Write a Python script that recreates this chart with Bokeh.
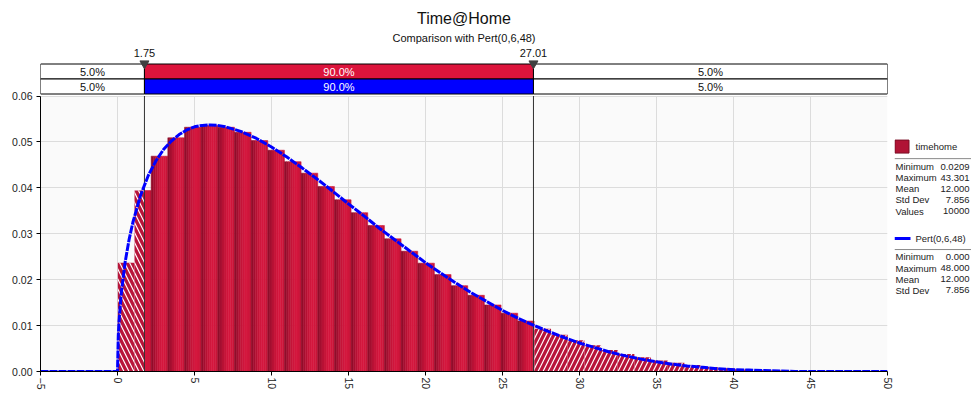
import numpy as np
from bokeh.plotting import figure
from bokeh.layouts import row
from bokeh.models import Range1d, FixedTicker, NumeralTickFormatter
from bokeh.core.properties import value
from bokeh.embed import file_html
from bokeh.resources import INLINE

# ---------------- data ----------------
title = "Time@Home"
subtitle = "Comparison with Pert(0,6,48)"
series_name = "timehome"
fit_name = "Pert(0,6,48)"

bin_min = 0.0209
bin_max = 43.301
hist_density = [0.0237, 0.0394, 0.0469, 0.0509, 0.0532, 0.0536, 0.0532, 0.0521,
                0.0503, 0.0482, 0.0457, 0.0432, 0.0403, 0.0374, 0.0346, 0.0318,
                0.0289, 0.0262, 0.0236, 0.0211, 0.0187, 0.0166, 0.0145, 0.0127,
                0.0110, 0.0093, 0.0080, 0.0068, 0.0057, 0.0047, 0.0038, 0.0031,
                0.0024, 0.0019, 0.0014, 0.0010, 0.0007, 0.0005, 0.0003, 0.0002]

curve_x = [-5, 0, 0.05, 0.1, 0.25, 0.5, 0.75, 1, 1.5, 2, 2.5, 3, 3.5, 4, 4.5, 5,
           5.5, 6, 6.5, 7, 8, 9, 10, 11, 12, 13, 14, 15, 16, 17, 18, 19, 20,
           21, 22, 23, 24, 25, 26, 27, 28, 29, 30, 31, 32, 33, 34, 35, 36, 37,
           38, 39, 40, 41, 42, 43, 44, 46, 48, 50]
curve_y = [0, 0, 0.0078, 0.0110, 0.0172, 0.0239, 0.0287, 0.0325, 0.0384, 0.0427,
           0.0459, 0.0484, 0.0502, 0.0516, 0.0526, 0.0533, 0.0536, 0.0537, 0.0536,
           0.0533, 0.0523, 0.0508, 0.0489, 0.0467, 0.0443, 0.0418, 0.0392, 0.0365,
           0.0339, 0.0312, 0.0287, 0.0262, 0.0237, 0.0214, 0.0192, 0.0171, 0.0152,
           0.0133, 0.0116, 0.0101, 0.0087, 0.0074, 0.0062, 0.0052, 0.0042, 0.0034,
           0.0027, 0.0021, 0.0016, 0.0012, 0.0009, 0.0006, 0.0004, 0.0003, 0.0002,
           0.0001, 0, 0, 0, 0]

p_low = 1.75
p_high = 27.01
band_left_pct = ["5.0%", "5.0%"]
band_mid_pct = ["90.0%", "90.0%"]
band_right_pct = ["5.0%", "5.0%"]
band_colors = ["#DC143C", "#0000FF"]

stats_hist_labels = ["Minimum", "Maximum", "Mean", "Std Dev", "Values"]
stats_hist_values = ["0.0209", "43.301", "12.000", "7.856", "10000"]
stats_fit_labels = ["Minimum", "Maximum", "Mean", "Std Dev"]
stats_fit_values = ["0.000", "48.000", "12.000", "7.856"]

x_ticks = [-5, 0, 5, 10, 15, 20, 25, 30, 35, 40, 45, 50]
y_ticks = [0.0, 0.01, 0.02, 0.03, 0.04, 0.05, 0.06]

# ---------------- layout / style ----------------
FONT = value("Liberation Sans")
X_MIN, X_MAX = -5, 50
Y_MAX = 0.06
W_MAIN, W_LEG, H = 894, 77, 400
PAD_L, PAD_R = 40, 7
IMG_TOP, IMG_Y0, IMG_YMAX = 0, 371, 95.5
PAD_B = H - IMG_Y0
y_top = Y_MAX * (IMG_Y0 - IMG_TOP) / (IMG_Y0 - IMG_YMAX)

GRAD = ["#900D2A", "#A40F30", "#B61235", "#C51539", "#CF163C", "#D5173E",
        "#D2173D", "#C81539"]
HATCH_FILL = "#B8153A"

p = figure(width=W_MAIN, height=H, x_range=Range1d(X_MIN, X_MAX),
           y_range=Range1d(0, y_top), output_backend="svg", toolbar_location=None,
           min_border_left=PAD_L, min_border_right=PAD_R, min_border_top=0,
           min_border_bottom=PAD_B, background_fill_color="white",
           border_fill_color="white", outline_line_color=None)
p.extra_y_ranges = {"hdr": Range1d(start=IMG_Y0, end=IMG_TOP)}

# axes
p.yaxis.bounds = (0, Y_MAX)
p.yaxis.ticker = FixedTicker(ticks=y_ticks)
p.yaxis.formatter = NumeralTickFormatter(format="0.00")
p.xaxis.ticker = FixedTicker(ticks=x_ticks)
p.xaxis.major_label_orientation = "vertical"
for ax in (p.xaxis[0], p.yaxis[0]):
    ax.axis_line_color = "black"
    ax.major_tick_line_color = "black"
    ax.major_tick_out = 4
    ax.major_tick_in = 0
    ax.minor_tick_line_color = None
    ax.major_label_text_font = "Liberation Sans"
    ax.major_label_text_font_size = "10.5px"
    ax.major_label_text_color = "#222222"
p.xaxis.major_label_standoff = 2
p.yaxis.major_label_standoff = 4

p.xgrid.grid_line_color = "#DCDCDC"
p.ygrid.grid_line_color = "#DCDCDC"
p.xgrid.cross_bounds = (0, Y_MAX)

# plot-area background
p.quad(left=X_MIN, right=X_MAX, bottom=0, top=Y_MAX, fill_color="#FAFAFA",
       line_color=None, level="image")

# histogram
n = len(hist_density)
bw = (bin_max - bin_min) / n
edges = [bin_min + bw * i for i in range(n + 1)]
hl, hr, ht = [], [], []
rl, rr, rt = [], [], []
sl, sr, st, sc = [], [], [], []
ns = len(GRAD)
for i, h in enumerate(hist_density):
    a, b = edges[i], edges[i + 1]
    if a < p_low:
        hl.append(a); hr.append(min(b, p_low)); ht.append(h)
    if b > p_high:
        rl.append(max(a, p_high)); rr.append(b); rt.append(h)
    for k in range(ns):
        sa = a + (b - a) * k / ns
        sb = a + (b - a) * (k + 1) / ns
        lo, hi = max(sa, p_low), min(sb, p_high)
        if hi > lo:
            sl.append(lo); sr.append(hi); st.append(h); sc.append(GRAD[k])

p.quad(left=sl, right=sr, bottom=0, top=st, fill_color=sc, line_color=sc,
       line_width=0.5)
p.quad(left=hl, right=hr, bottom=0, top=ht, fill_color=HATCH_FILL, line_color=None,
       hatch_pattern="\\", hatch_color="white", hatch_scale=10, hatch_weight=1.2)
p.quad(left=rl, right=rr, bottom=0, top=rt, fill_color=HATCH_FILL, line_color=None,
       hatch_pattern="/", hatch_color="white", hatch_scale=10, hatch_weight=1.2)

# percentile lines
p.segment(x0=[p_low, p_high], y0=0, x1=[p_low, p_high], y1=Y_MAX,
          line_color="#303030", line_width=1)

# fitted curve
p.line(curve_x, curve_y, line_color="#0000FF", line_width=3, line_dash="8 1")

# header bands
rows_top = [63.5, 78.5]
rows_bot = [78.5, 93.5]
for r in range(2):
    p.quad(left=[X_MIN, p_low, p_high], right=[p_low, p_high, X_MAX],
           top=rows_top[r], bottom=rows_bot[r],
           fill_color=["white", band_colors[r], "white"], line_color="black",
           line_width=1, y_range_name="hdr")
    ymid = (rows_top[r] + rows_bot[r]) / 2
    p.text(x=[(X_MIN + p_low) / 2, (p_low + p_high) / 2, (p_high + X_MAX) / 2],
           y=[ymid] * 3,
           text=[band_left_pct[r], band_mid_pct[r], band_right_pct[r]],
           text_color=["#111111", "white", "#111111"], text_align="center",
           text_baseline="middle", text_font=FONT,
           text_font_size=value("11px"), y_range_name="hdr")

p.scatter(x=[p_low, p_high], y=[63, 63], marker="inverted_triangle", size=9,
          fill_color="#404040", line_color="#404040", y_range_name="hdr")
p.text(x=[p_low, p_high], y=[52.5, 52.5], text=[f"{p_low:.2f}", f"{p_high:.2f}"],
       text_align="center", text_baseline="middle", text_font=FONT,
       text_font_size=value("11px"), text_color="#111111", y_range_name="hdr")

# titles
p.text(x=[(X_MIN + X_MAX) / 2], y=[18], text=[title], text_align="center",
       text_baseline="middle", text_font=FONT, text_font_size=value("16px"),
       text_color="#111111", y_range_name="hdr")
p.text(x=[(X_MIN + X_MAX) / 2], y=[37], text=[subtitle], text_align="center",
       text_baseline="middle", text_font=FONT, text_font_size=value("11px"),
       text_color="#111111", y_range_name="hdr")

# ---------------- legend panel ----------------
lg = figure(width=W_LEG, height=H, x_range=Range1d(0, W_LEG),
            y_range=Range1d(H, 0), output_backend="svg", toolbar_location=None,
            min_border_left=0, min_border_right=0, min_border_top=0,
            min_border_bottom=0, x_axis_location=None, y_axis_location=None,
            background_fill_color="white", border_fill_color="white",
            outline_line_color=None)
lg.grid.visible = False

lg.quad(left=0.5, right=14.5, top=150.5, bottom=164.5, fill_color="#B01435",
        line_color="#7A0E25", line_width=1)
lg.text(x=[21], y=[157.5], text=[series_name], text_baseline="middle",
        text_font=FONT, text_font_size=value("9.5px"), text_color="#222222")
lg.segment(x0=0, y0=170.5, x1=W_LEG, y1=170.5, line_color="#8A8A8A", line_width=1)
ys1 = [179 + 12 * i for i in range(len(stats_hist_labels))]
lg.text(x=[1] * len(ys1), y=ys1, text=stats_hist_labels, text_baseline="middle",
        text_font=FONT, text_font_size=value("9.5px"), text_color="#222222")
lg.text(x=[75] * len(ys1), y=ys1, text=stats_hist_values, text_baseline="middle",
        text_align="right", text_font=FONT, text_font_size=value("9.5px"),
        text_color="#222222")

lg.segment(x0=0, y0=256.5, x1=16, y1=256.5, line_color="#0000FF", line_width=3)
lg.text(x=[21], y=[256.5], text=[fit_name], text_baseline="middle",
        text_font=FONT, text_font_size=value("9.5px"), text_color="#222222")
lg.segment(x0=0, y0=268.5, x1=W_LEG, y1=268.5, line_color="#8A8A8A", line_width=1)
ys2 = [276.5 + 12 * i for i in range(len(stats_fit_labels))]
lg.text(x=[1] * len(ys2), y=ys2, text=stats_fit_labels, text_baseline="middle",
        text_font=FONT, text_font_size=value("9.5px"), text_color="#222222")
lg.text(x=[75] * len(ys2), y=ys2, text=stats_fit_values, text_baseline="middle",
        text_align="right", text_font=FONT, text_font_size=value("9.5px"),
        text_color="#222222")

layout = row(p, lg, spacing=0)
open("out.html", "w").write(file_html(layout, INLINE))
